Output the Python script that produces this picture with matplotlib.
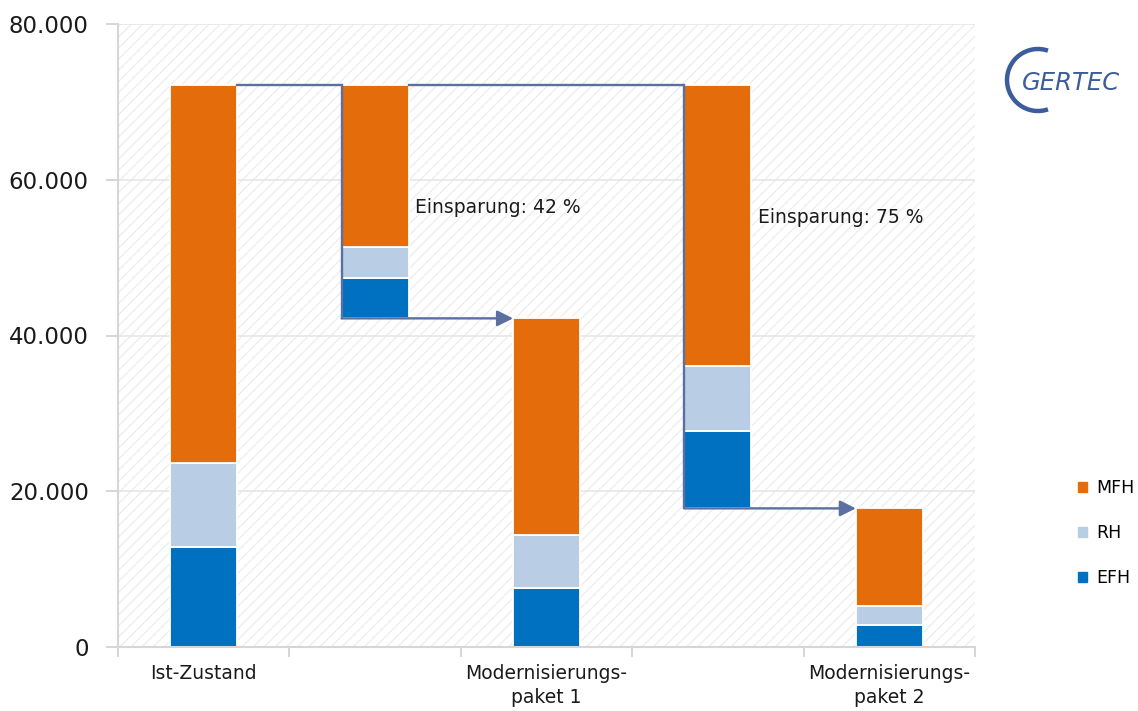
import matplotlib.pyplot as plt
from matplotlib.patches import Rectangle, Arc
from matplotlib.ticker import FuncFormatter, MultipleLocator
import numpy as np

# Endenergie je Gebäudetyp für die drei Stufen
stages = ["Ist-Zustand", "Modernisierungs-\npaket 1", "Modernisierungs-\npaket 2"]
efh = np.array([12800, 7600, 2800])
rh = np.array([10800, 6800, 2500])
mfh = np.array([48600, 27800, 12500])

series = [("EFH", efh, "#0070C0"), ("RH", rh, "#B9CDE5"), ("MFH", mfh, "#E46C0A")]
total = efh + rh + mfh

line_color = "#5B6FA0"
w = 0.39

fig = plt.figure(figsize=(11.38, 7.11), dpi=100)
ax = fig.add_axes([118 / 1138, 1 - 647 / 711, 857 / 1138, 623 / 711])

# schraffierter Hintergrund
plt.rcParams["hatch.linewidth"] = 1.0
ax.add_patch(Rectangle((0, 0), 1, 1, transform=ax.transAxes, facecolor="white",
                       edgecolor="#EEEEEE", hatch="///", lw=0, zorder=-2))

# Stufen an Position 0, 2, 4
for i in range(len(stages)):
    bottom = 0
    for name, vals, col in series:
        ax.bar(2 * i, vals[i], w, bottom=bottom, color=col, edgecolor="white", lw=1.3, zorder=2)
        bottom += vals[i]

# Einsparbalken an Position 1, 3 (schwebend über dem Rest)
for k in (1, 2):
    xs = 2 * k - 1
    bottom = total[k]
    for name, vals, col in series:
        d = vals[0] - vals[k]
        ax.bar(xs, d, w, bottom=bottom, color=col, edgecolor="white", lw=1.3, zorder=2)
        bottom += d

# Verbindungslinien mit Pfeil
label_y = {1: 56400, 2: 55200}
for k in (1, 2):
    xs = 2 * k - 1
    x0 = (k - 1) + w / 2
    xl = xs - w / 2
    ax.plot([x0, xl, xl], [total[0], total[0], total[k]], color=line_color, lw=1.7, zorder=4,
            solid_joinstyle="miter")
    ax.annotate("", xy=(2 * k - w / 2, total[k]), xytext=(xl, total[k]),
                arrowprops=dict(arrowstyle="-|>", color=line_color, lw=1.7, mutation_scale=24,
                                shrinkA=0, shrinkB=0), zorder=4)
    pct = round(100 * (1 - total[k] / total[0]))
    ax.text(xs + w / 2 + 0.04, label_y[k], f"Einsparung: {pct} %", fontsize=13.5,
            color="#1A1A1A", va="center", ha="left", zorder=5)

ax.set_xlim(-0.5, 4.5)
ax.set_ylim(0, 80000)

ax.yaxis.set_major_locator(MultipleLocator(20000))
ax.yaxis.set_major_formatter(FuncFormatter(lambda v, p: f"{v:,.0f}".replace(",", ".")))
ax.grid(axis="y", color="#E6E6E6", lw=1.2, zorder=-1)
ax.set_axisbelow(True)

ax.set_xticks(np.arange(-0.5, 5, 1))
ax.set_xticklabels([])
ax.set_xticks([0, 2, 4], minor=True)
ax.set_xticklabels(stages, minor=True, fontsize=13.5, color="#1A1A1A", linespacing=1.35)
ax.tick_params(axis="x", which="major", length=7, color="#D0D0D0", width=1.2)
ax.tick_params(axis="x", which="minor", length=0, pad=12)
ax.tick_params(axis="y", length=9, color="#D0D0D0", width=1.2, labelsize=16.5, pad=12,
               labelcolor="#1A1A1A")

for s in ("top", "right"):
    ax.spines[s].set_visible(False)
for s in ("left", "bottom"):
    ax.spines[s].set_color("#D6D6D6")
    ax.spines[s].set_linewidth(1.5)

# Legende
handles = [Rectangle((0, 0), 1, 1, color=col) for name, vals, col in series][::-1]
labels = [name for name, vals, col in series][::-1]
fig.legend(handles, labels, loc="center left", bbox_to_anchor=(1062 / 1138, 1 - 533 / 711),
           frameon=False, fontsize=12.5, handlelength=0.55, handleheight=0.55,
           handletextpad=0.5, labelspacing=1.55)

# Logo
logo = "#3D5C9C"
fig.add_artist(Arc((1038 / 1138, 1 - 80 / 711), 62 / 1138, 62 / 711, theta1=78, theta2=282,
                   transform=fig.transFigure, lw=3.2, color=logo))
fig.text(1022 / 1138, 1 - 83 / 711, "GERTEC", fontsize=17.5, style="italic", color=logo,
         va="center", ha="left")

fig.savefig("out.png", dpi=100)
